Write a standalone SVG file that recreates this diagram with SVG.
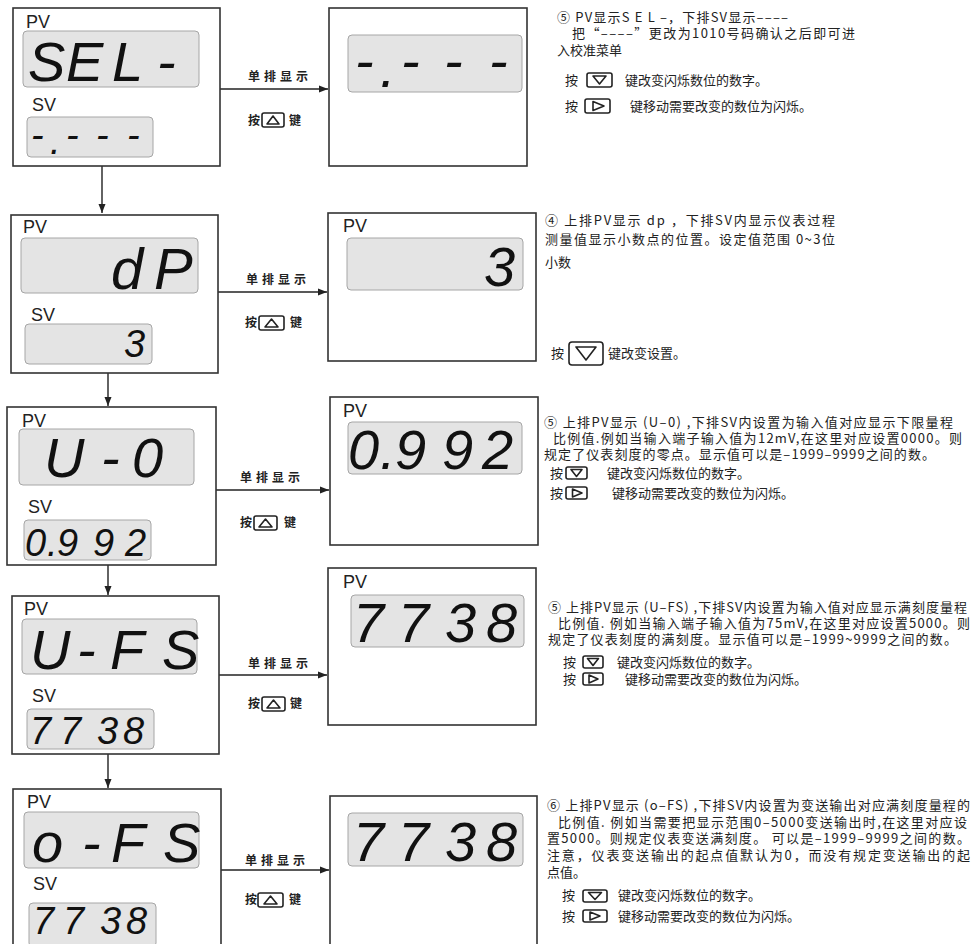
<svg xmlns="http://www.w3.org/2000/svg" width="978" height="944" viewBox="0 0 978 944">
<defs>
<marker id="ah" markerWidth="10" markerHeight="8" refX="9" refY="4" orient="auto" markerUnits="userSpaceOnUse">
<path d="M0,0.5 L9,4 L0,7.5 Z" fill="#222"/>
</marker>
<style>
.box{fill:#fff;stroke:#333;stroke-width:1.6}
.lcd{fill:#e4e4e4;stroke:#a6a6a6;stroke-width:1}
.lbl{font-family:"Liberation Sans",Arial,sans-serif;font-size:18px;fill:#222}
.seg{font-family:"Liberation Sans",Arial,sans-serif;font-style:italic;fill:#111}
.pv{font-size:56px}
.sv{font-size:38px}
.cn{font-family:"Noto Sans CJK SC","Noto Sans",sans-serif;font-size:13px;fill:#222}
.al{font-family:"Noto Sans CJK SC",sans-serif;font-size:12px;font-weight:bold;fill:#222;letter-spacing:4px}
.ak{font-family:"Noto Sans CJK SC",sans-serif;font-size:12px;font-weight:bold;fill:#222}
.btn{fill:#fff;stroke:#222;stroke-width:1.6}
.tri{fill:none;stroke:#222;stroke-width:1.6;stroke-linejoin:round}
.con{stroke:#222;stroke-width:1.4;fill:none}
</style>
</defs>
<rect width="978" height="944" fill="#fff"/>

<g id="connectors">
<line class="con" x1="220" y1="89" x2="328" y2="89" marker-end="url(#ah)"/>
<line class="con" x1="218" y1="292" x2="327" y2="292" marker-end="url(#ah)"/>
<line class="con" x1="216" y1="490" x2="329" y2="490" marker-end="url(#ah)"/>
<line class="con" x1="219" y1="675" x2="327" y2="675" marker-end="url(#ah)"/>
<line class="con" x1="221" y1="870" x2="329" y2="870" marker-end="url(#ah)"/>
<line class="con" x1="102" y1="166" x2="102" y2="213" marker-end="url(#ah)"/>
<line class="con" x1="108" y1="373" x2="108" y2="406" marker-end="url(#ah)"/>
<line class="con" x1="108" y1="565" x2="108" y2="595" marker-end="url(#ah)"/>
<line class="con" x1="108" y1="754" x2="108" y2="788" marker-end="url(#ah)"/>

<text class="al" x="248" y="81">单排显示</text>
<text class="ak" x="248" y="125">按</text><rect class="btn" x="262" y="113" width="22" height="14" rx="2"/><polygon class="tri" points="273,116 279,124 267,124"/><text class="ak" x="289" y="125">键</text>

<text class="al" x="246" y="284">单排显示</text>
<text class="ak" x="245" y="327">按</text><rect class="btn" x="259" y="316" width="25" height="14" rx="2"/><polygon class="tri" points="271.5,319 278,327 265,327"/><text class="ak" x="290" y="327">键</text>

<text class="al" x="240" y="482">单排显示</text>
<text class="ak" x="240" y="527">按</text><rect class="btn" x="254" y="516" width="23" height="14" rx="2"/><polygon class="tri" points="265.5,519 272,527 259,527"/><text class="ak" x="284" y="527">键</text>

<text class="al" x="248" y="668">单排显示</text>
<text class="ak" x="248" y="708">按</text><rect class="btn" x="262" y="697" width="23" height="14" rx="2"/><polygon class="tri" points="273.5,700 280,708 267,708"/><text class="ak" x="290" y="708">键</text>

<text class="al" x="245" y="865">单排显示</text>
<text class="ak" x="245" y="904">按</text><rect class="btn" x="258" y="893" width="25" height="14" rx="2"/><polygon class="tri" points="270.5,896 277,904 264,904"/><text class="ak" x="289" y="904">键</text>
</g>

<!-- Row 1 -->
<g id="sel-left">
<rect class="box" x="13" y="8" width="207" height="158"/>
<text class="lbl" x="26" y="28">PV</text>
<rect class="lcd" x="23" y="31" width="176" height="56" rx="4"/>
<text class="seg pv" x="28 66 112 157" y="81">SEL-</text>
<text class="lbl" x="32" y="111">SV</text>
<rect class="lcd" x="27" y="117" width="126" height="40" rx="4"/>
<text class="seg sv" x="31 50 66 96 127" y="148 154 148 148 148">-.---</text>
</g>
<g id="sel-right">
<rect class="box" x="329" y="8" width="198" height="158"/>
<rect class="lcd" x="348" y="35" width="174" height="57" rx="4"/>
<text class="seg pv" x="355 380 401 444 489" y="80 87 80 80 80">-.---</text>
</g>
<g id="sel-text">
<text class="cn" x="557" y="22" textLength="231" lengthAdjust="spacing">⑤ PV显示S E L –，下排SV显示––––</text>
<text class="cn" x="572" y="38" textLength="283" lengthAdjust="spacing">把“––––”更改为1010号码确认之后即可进</text>
<text class="cn" x="557" y="55">入校准菜单</text>
<text class="cn" x="565" y="85">按</text>
<rect class="btn" x="587" y="73" width="25" height="14" rx="2"/><polygon class="tri" points="593,76 606,76 599.5,84"/>
<text class="cn" x="625" y="85">键改变闪烁数位的数字。</text>
<text class="cn" x="565" y="111">按</text>
<rect class="btn" x="585" y="99" width="25" height="14" rx="2"/><polygon class="tri" points="593,101.5 604,106 593,110.5"/>
<text class="cn" x="630" y="111">键移动需要改变的数位为闪烁。</text>
</g>

<!-- Row 2 -->
<g id="dp-left">
<rect class="box" x="11" y="215" width="207" height="158"/>
<text class="lbl" x="23" y="233">PV</text>
<rect class="lcd" x="21" y="238" width="177" height="55" rx="4"/>
<text class="seg" style="font-size:58px" x="111 154" y="289">dP</text>
<text class="lbl" x="31" y="321">SV</text>
<rect class="lcd" x="25" y="324" width="127" height="40" rx="4"/>
<text class="seg sv" x="124" y="357">3</text>
</g>
<g id="dp-right">
<rect class="box" x="328" y="213" width="208" height="148"/>
<text class="lbl" x="343" y="232">PV</text>
<rect class="lcd" x="347" y="238" width="176" height="52" rx="4"/>
<text class="seg pv" x="484" y="286">3</text>
</g>
<g id="dp-text">
<text class="cn" x="545" y="225" textLength="290" lengthAdjust="spacing">④  上排PV显示 dp ，下排SV内显示仪表过程</text>
<text class="cn" x="545" y="244" textLength="290" lengthAdjust="spacing">测量值显示小数点的位置。设定值范围 0~3位</text>
<text class="cn" x="545" y="267">小数</text>
<text class="cn" x="551" y="358">按</text>
<rect class="btn" x="569" y="342" width="34" height="23" rx="3"/><polygon class="tri" points="576,347 596,347 586,360"/>
<text class="cn" x="608" y="358">键改变设置。</text>
</g>

<!-- Row 3 -->
<g id="u0-left">
<rect class="box" x="7" y="407" width="209" height="158"/>
<text class="lbl" x="22" y="427">PV</text>
<rect class="lcd" x="19" y="429" width="175" height="56" rx="4"/>
<text class="seg pv" x="44 101 132" y="477">U-0</text>
<text class="lbl" x="28" y="513">SV</text>
<rect class="lcd" x="24" y="520" width="127" height="40" rx="4"/>
<text class="seg sv" x="25 47 57 93 125" y="556">0.992</text>
</g>
<g id="u0-right">
<rect class="box" x="330" y="397" width="208" height="148"/>
<text class="lbl" x="343" y="417">PV</text>
<rect class="lcd" x="348" y="422" width="174" height="52" rx="4"/>
<text class="seg pv" x="348 380 395 442 482" y="469">0.992</text>
</g>
<g id="u0-text">
<text class="cn" x="544" y="427" textLength="409" lengthAdjust="spacing">⑤ 上排PV显示 (U–0) ,下排SV内设置为输入值对应显示下限量程</text>
<text class="cn" x="553" y="443" textLength="409" lengthAdjust="spacing">比例值.例如当输入端子输入值为12mV,在这里对应设置0000。则</text>
<text class="cn" x="544" y="459" textLength="391" lengthAdjust="spacing">规定了仪表刻度的零点。显示值可以是–1999–9999之间的数。</text>
<text class="cn" x="550" y="478">按</text>
<rect class="btn" x="566" y="467" width="21" height="12" rx="2"/><polygon class="tri" points="571,469.5 582,469.5 576.5,476.5"/>
<text class="cn" x="607" y="478">键改变闪烁数位的数字。</text>
<text class="cn" x="550" y="498">按</text>
<rect class="btn" x="566" y="487" width="21" height="12" rx="2"/><polygon class="tri" points="572.5,489 582,493 572.5,497"/>
<text class="cn" x="612" y="498">键移动需要改变的数位为闪烁。</text>
</g>

<!-- Row 4 -->
<g id="ufs-left">
<rect class="box" x="12" y="596" width="207" height="158"/>
<text class="lbl" x="24" y="615">PV</text>
<rect class="lcd" x="22" y="619" width="175" height="55" rx="4"/>
<text class="seg pv" x="30 77 110 162" y="669">U-FS</text>
<text class="lbl" x="32" y="702">SV</text>
<rect class="lcd" x="27" y="709" width="127" height="40" rx="4"/>
<text class="seg sv" x="30 60 97 123" y="744">7738</text>
</g>
<g id="ufs-right">
<rect class="box" x="328" y="568" width="208" height="157"/>
<text class="lbl" x="343" y="588">PV</text>
<rect class="lcd" x="351" y="595" width="173" height="52" rx="4"/>
<text class="seg pv" x="353 398 445 486" y="642">7738</text>
</g>
<g id="ufs-text">
<text class="cn" x="548" y="612" textLength="419" lengthAdjust="spacing">⑤ 上排PV显示 (U–FS) ,下排SV内设置为输入值对应显示满刻度量程</text>
<text class="cn" x="558" y="628" textLength="412" lengthAdjust="spacing">比例值.  例如当输入端子输入值为75mV,在这里对应设置5000。则</text>
<text class="cn" x="548" y="644" textLength="409" lengthAdjust="spacing">规定了仪表刻度的满刻度。显示值可以是–1999~9999之间的数。</text>
<text class="cn" x="563" y="667">按</text>
<rect class="btn" x="583" y="656" width="20" height="12" rx="2"/><polygon class="tri" points="587.5,658.5 598.5,658.5 593,665.5"/>
<text class="cn" x="617" y="667">键改变闪烁数位的数字。</text>
<text class="cn" x="563" y="684">按</text>
<rect class="btn" x="583" y="673" width="20" height="12" rx="2"/><polygon class="tri" points="589,675 598,679 589,683"/>
<text class="cn" x="625" y="684">键移动需要改变的数位为闪烁。</text>
</g>

<!-- Row 5 -->
<g id="ofs-left">
<rect class="box" x="13" y="789" width="208" height="162"/>
<text class="lbl" x="27" y="808">PV</text>
<rect class="lcd" x="24" y="812" width="175" height="56" rx="4"/>
<text class="seg pv" x="32 82 111 163" y="862">o-FS</text>
<text class="lbl" x="33" y="890">SV</text>
<rect class="lcd" x="29" y="903" width="127" height="44" rx="4"/>
<text class="seg sv" x="33 63 100 126" y="934">7738</text>
</g>
<g id="ofs-right">
<rect class="box" x="330" y="796" width="207" height="155"/>
<rect class="lcd" x="348" y="813" width="175" height="53" rx="4"/>
<text class="seg pv" x="353 398 445 486" y="861">7738</text>
</g>
<g id="ofs-text">
<text class="cn" x="547" y="810" textLength="423" lengthAdjust="spacing">⑥ 上排PV显示 (o–FS) ,下排SV内设置为变送输出对应满刻度量程的</text>
<text class="cn" x="558" y="827" textLength="409" lengthAdjust="spacing">比例值.  例如当需要把显示范围0–5000变送输出时,在这里对应设</text>
<text class="cn" x="547" y="843" textLength="423" lengthAdjust="spacing">置5000。则规定仪表变送满刻度。  可以是–1999–9999之间的数。</text>
<text class="cn" x="547" y="860" textLength="423" lengthAdjust="spacing">注意，仪表变送输出的起点值默认为0，而没有规定变送输出的起</text>
<text class="cn" x="547" y="877">点值。</text>
<text class="cn" x="562" y="900">按</text>
<rect class="btn" x="583" y="890" width="24" height="12" rx="2"/><polygon class="tri" points="588.5,892.5 601.5,892.5 595,899.5"/>
<text class="cn" x="618" y="900">键改变闪烁数位的数字。</text>
<text class="cn" x="562" y="921">按</text>
<rect class="btn" x="583" y="910" width="24" height="12" rx="2"/><polygon class="tri" points="590,912 600,916 590,920"/>
<text class="cn" x="618" y="921">键移动需要改变的数位为闪烁。</text>
</g>
</svg>
